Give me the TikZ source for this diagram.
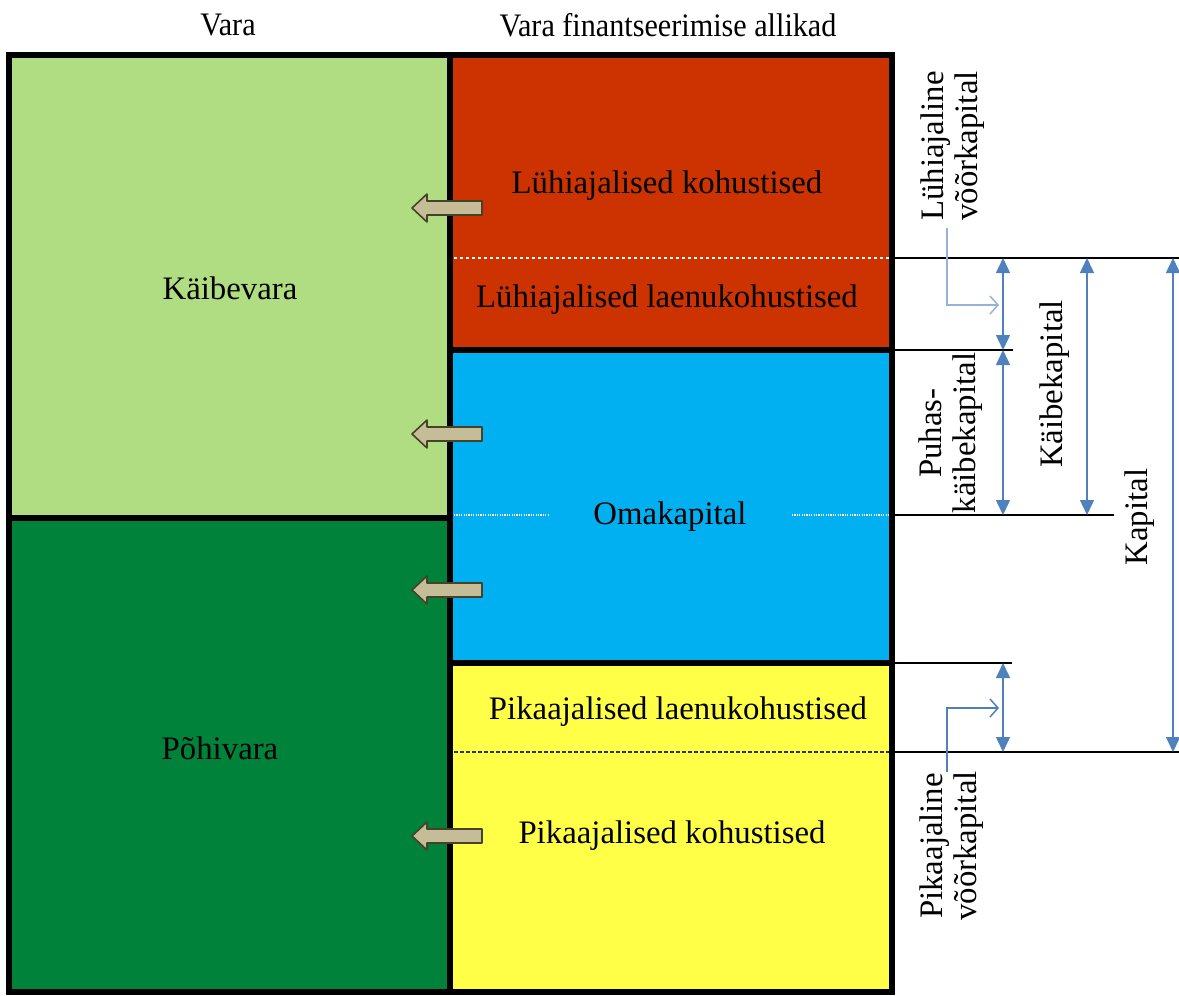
\documentclass[tikz,border=0pt]{standalone}
\usepackage{fontspec}
\setmainfont{Liberation Serif}
\usetikzlibrary{arrows.meta}

\definecolor{kvgreen}{RGB}{177,221,130}
\definecolor{pvgreen}{RGB}{0,130,58}
\definecolor{lkred}{RGB}{204,51,0}
\definecolor{okblue}{RGB}{0,176,240}
\definecolor{pkyellow}{RGB}{255,255,72}
\definecolor{arrtan}{RGB}{196,189,151}
\definecolor{arredge}{RGB}{70,66,40}
\definecolor{dimblue}{RGB}{79,129,189}
\definecolor{calloutblue}{RGB}{149,179,215}

\begin{document}
\begin{tikzpicture}[x=0.5pt, y=-0.5pt,
    every node/.style={font=\fontsize{16.4}{17}\selectfont, text=black},
    blk/.style={draw=black, line width=3pt},
    head/.style={xscale=0.92},
    vlabel/.style={rotate=90, align=center},
    bkarrow/.style={fill=arrtan, draw=arredge, line width=0.8pt, line join=round},
    sepline/.style={line width=0.6pt},
    dim/.style={dimblue, line width=0.75pt, {Triangle[width=7pt,length=7.5pt]}-{Triangle[width=7pt,length=7.5pt]}},
    callout/.style={line width=0.75pt, -{Straight Barb[length=4pt,width=9pt]}}]
  \useasboundingbox (0,0) rectangle (1179,996);

  % headings
  \node[head] (vara) at (228,25) {Vara};
  \node[head] (allikad) at (668,25) {Vara finantseerimise allikad};

  % blocks
  \draw[blk, fill=kvgreen] (9,55) rectangle (450,518);
  \draw[blk, fill=pvgreen] (9,518) rectangle (450,992);
  \draw[blk, fill=lkred] (450,55) rectangle (892,350);
  \draw[blk, fill=okblue] (450,350) rectangle (892,663);
  \draw[blk, fill=pkyellow] (450,663) rectangle (892,992);

  % inner separators
  \draw[white, line width=0.6pt, dash pattern=on 1.5pt off 1.5pt] (454,258) -- (889,258);
  \draw[white, line width=0.6pt, dash pattern=on 0.6pt off 0.6pt] (454,515) -- (548,515);
  \draw[white, line width=0.6pt, dash pattern=on 0.6pt off 0.6pt] (792,515) -- (889,515);
  \draw[black!80, line width=0.6pt, dash pattern=on 2pt off 1pt] (454,752) -- (889,752);

  \node (kaibevara) at (230,288) {Käibevara};
  \node (pohivara) at (220,748) {Põhivara};
  \node (lyhkoh) at (667,186) {Lühiajalised kohustised};
  \node (lyhlaen) at (667,300) {Lühiajalised laenukohustised};
  \node (omakap) at (670,517) {Omakapital};
  \node (pikalaen) at (678,712) {Pikaajalised laenukohustised};
  \node (pikakoh) at (672,836) {Pikaajalised kohustised};

  % block arrows
  \foreach \ay in {208,434,590,836}
    \draw[bkarrow] (482,\ay-7) -- (427,\ay-7) -- (427,\ay-14) -- (412,\ay)
      -- (427,\ay+14) -- (427,\ay+7) -- (482,\ay+7) -- cycle;

  % levels on the right
  \coordinate (lvl1) at (892,258);
  \coordinate (lvl2) at (892,350);
  \coordinate (lvl3) at (892,515);
  \coordinate (lvl4) at (892,663);
  \coordinate (lvl5) at (892,752);
  \coordinate (colA) at (1003,0);
  \coordinate (colB) at (1087,0);
  \coordinate (colC) at (1173,0);
  \draw[sepline] (lvl1) -- (1179,258);
  \draw[sepline] (lvl2) -- (1013,350);
  \draw[sepline] (lvl3) -- (1114,515);
  \draw[sepline] (lvl4) -- (1012,663);
  \draw[sepline] (lvl5) -- (1179,752);

  \draw[dim] (colA |- lvl1) -- (colA |- lvl2);
  \draw[dim] (colA |- lvl2) -- (colA |- lvl3);
  \draw[dim] (colA |- lvl4) -- (colA |- lvl5);
  \draw[dim] (colB |- lvl1) -- (colB |- lvl3);
  \draw[dim] (colC |- lvl1) -- (colC |- lvl5);

  \node[vlabel] (lyhvoor) at (953,146) {Lühiajaline\\võõrkapital};
  \node[vlabel] (puhas) at (951,433) {Puhas-\\käibekapital};
  \node[vlabel] (kaibekap) at (1055,384) {Käibekapital};
  \node[vlabel] (kapital) at (1140,517) {Kapital};
  \node[vlabel] (pikavoor) at (952,846) {Pikaajaline\\võõrkapital};

  \coordinate (lyhin) at (999,305);
  \coordinate (pikain) at (999,708);
  \draw[callout, calloutblue] (lyhvoor.west) ++(-6,0) |- (lyhin);
  \draw[callout, dimblue] (pikavoor.east) ++(-5,8) |- (pikain);
\end{tikzpicture}
\end{document}
